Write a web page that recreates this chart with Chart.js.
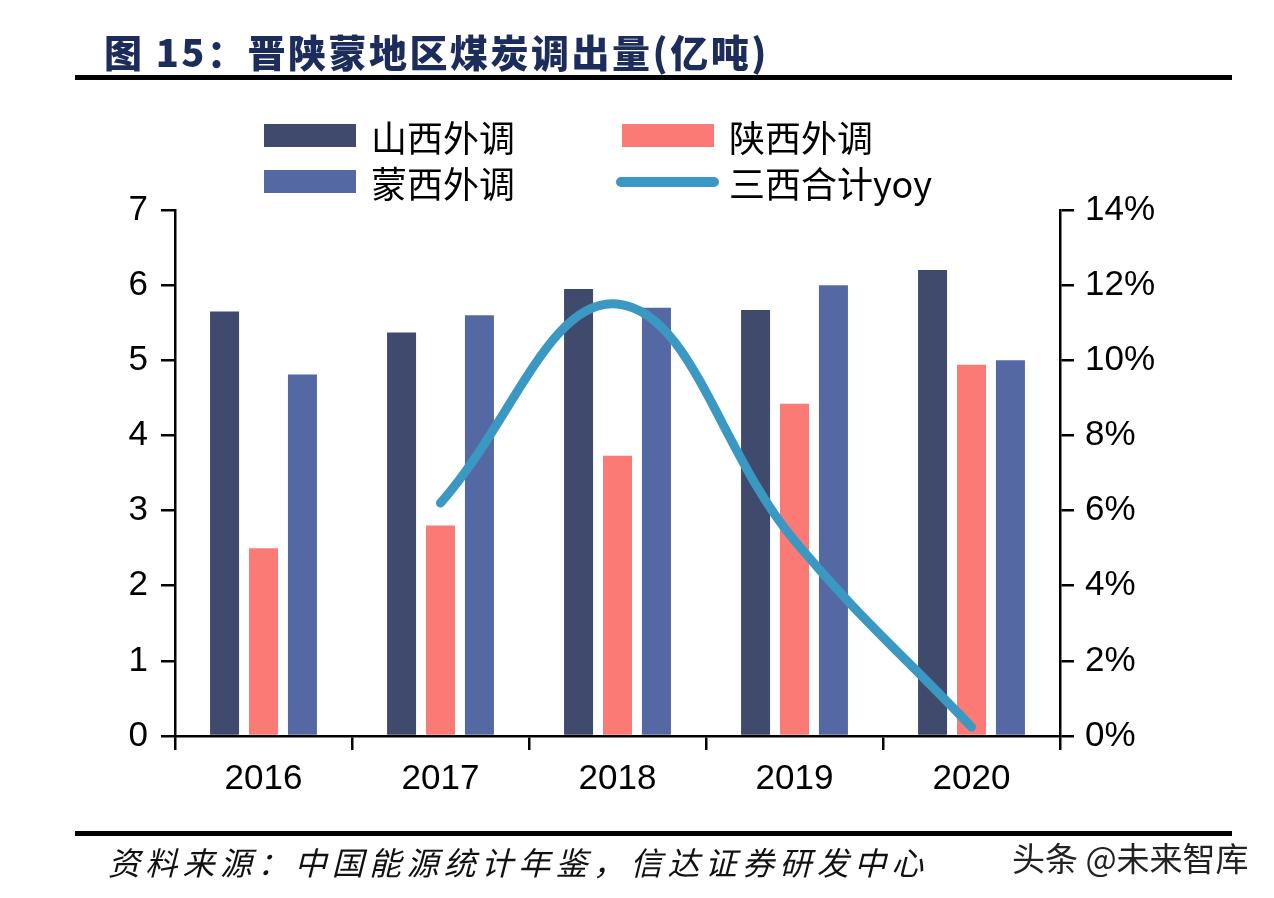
<!DOCTYPE html>
<html>
<head>
<meta charset="utf-8">
<script src="https://cdn.jsdelivr.net/npm/chart.js@4/dist/chart.umd.min.js"></script>
<style>
  html, body { margin: 0; padding: 0; background: #fff; }
  #wrap { position: relative; width: 1274px; height: 898px; overflow: hidden; font-family: "Noto Sans CJK SC", sans-serif; }
  #chart { position: absolute; left: 0; top: 0; }
  .title { position: absolute; left: 104px; top: 27px; font-size: 38px; font-weight: 900; color: #1c2d5c; letter-spacing: 2.5px; line-height: 48px; white-space: nowrap; }
  .rule { position: absolute; left: 75px; width: 1157px; height: 5px; background: #000; }
  .source { position: absolute; left: 108px; top: 840px; font-size: 32px; font-style: italic; letter-spacing: 5.3px; line-height: 42px; color: #111; white-space: nowrap; }
  .mark { position: absolute; left: 1012px; top: 836px; font-size: 33px; line-height: 42px; color: #222; white-space: nowrap; }
  .leg { position: absolute; font-size: 36px; line-height: 44px; color: #000; white-space: nowrap; }
  .legbox { position: absolute; }
</style>
</head>
<body>
<div id="wrap">
  <canvas id="chart" width="1274" height="898"></canvas>
  <div class="title">图 15：晋陕蒙地区煤炭调出量(亿吨)</div>
  <div class="rule" style="top:75px"></div>
  <div class="rule" style="top:831px"></div>
  <div class="source">资料来源：中国能源统计年鉴，信达证券研发中心</div>
  <div class="mark">头条 @未来智库</div>
  <div id="legend"></div>
</div>
<script>
const years = ["2016", "2017", "2018", "2019", "2020"];
const shanxi = [5.65, 5.37, 5.95, 5.67, 6.2];
const shaanxi = [2.5, 2.8, 3.73, 4.42, 4.94];
const mengxi = [4.81, 5.6, 5.7, 6.0, 5.0];
const yoy = [null, 6.2, 11.5, 5.2, 0.24]; // %
const leftTicks = [0, 1, 2, 3, 4, 5, 6, 7];
const rightTicks = [0, 2, 4, 6, 8, 10, 12, 14];

const axisFont = { family: "'Liberation Sans', Arial, sans-serif", size: 35 };
const gridOpts = { drawOnChartArea: false, drawTicks: true, tickLength: 14, color: "#000", lineWidth: 2.5 };
const borderOpts = { display: true, color: "#000", width: 2.5 };

const chart = new Chart(document.getElementById("chart").getContext("2d"), {
  data: {
    labels: years,
    datasets: [
      { type: "line", label: "三西合计yoy", data: yoy, yAxisID: "y1", borderColor: "#3a98c2", backgroundColor: "#3a98c2",
        borderWidth: 9, tension: 0.4, pointRadius: 0, borderCapStyle: "round", borderJoinStyle: "round", order: 0 },
      { type: "bar", label: "山西外调", data: shanxi, yAxisID: "y", backgroundColor: "#3f4a6c", order: 1 },
      { type: "bar", label: "陕西外调", data: shaanxi, yAxisID: "y", backgroundColor: "#fc7a76", order: 1 },
      { type: "bar", label: "蒙西外调", data: mengxi, yAxisID: "y", backgroundColor: "#5468a3", order: 1 }
    ]
  },
  options: {
    responsive: false,
    animation: false,
    datasets: { bar: { categoryPercentage: 0.66, barPercentage: 0.745 } },
    layout: { padding: { top: 210, left: 0, right: 0, bottom: 0 } },
    plugins: { legend: { display: false }, tooltip: { enabled: false } },
    scales: {
      x: {
        offset: true,
        grid: { ...gridOpts, offset: true },
        border: borderOpts,
        ticks: { color: "#000", font: axisFont, padding: 8, maxRotation: 0 },
        afterFit: s => { s.height = 162; }
      },
      y: {
        position: "left", min: 0, max: 7,
        afterBuildTicks: s => { s.ticks = leftTicks.map(v => ({ value: v })); },
        grid: gridOpts, border: borderOpts,
        ticks: { color: "#000", font: axisFont, padding: 13 },
        afterFit: s => { s.width = 175; }
      },
      y1: {
        position: "right", min: 0, max: 14,
        afterBuildTicks: s => { s.ticks = rightTicks.map(v => ({ value: v })); },
        grid: gridOpts, border: borderOpts,
        ticks: { color: "#000", font: axisFont, padding: 11, callback: v => v + "%" },
        afterFit: s => { s.width = 214; }
      }
    }
  }
});

// legend, 2 x 2 like the original
const legendSpots = {
  "山西外调": { x: 264, y: 124 },
  "陕西外调": { x: 622, y: 124 },
  "蒙西外调": { x: 264, y: 170 },
  "三西合计yoy": { x: 622, y: 170 }
};
const legendDiv = document.getElementById("legend");
chart.data.datasets.forEach(ds => {
  const p = legendSpots[ds.label];
  const box = document.createElement("div");
  box.className = "legbox";
  if (ds.type === "line") {
    Object.assign(box.style, { left: (p.x - 6) + "px", top: (p.y + 7) + "px", width: "103px", height: "10px",
      borderRadius: "5px", background: ds.borderColor });
  } else {
    Object.assign(box.style, { left: p.x + "px", top: p.y + "px", width: "92px", height: "23px", background: ds.backgroundColor });
  }
  legendDiv.appendChild(box);
  const txt = document.createElement("div");
  txt.className = "leg";
  txt.textContent = ds.label;
  txt.style.left = (p.x + 107) + "px";
  txt.style.top = (p.y - 10) + "px";
  legendDiv.appendChild(txt);
});
</script>
</body>
</html>
